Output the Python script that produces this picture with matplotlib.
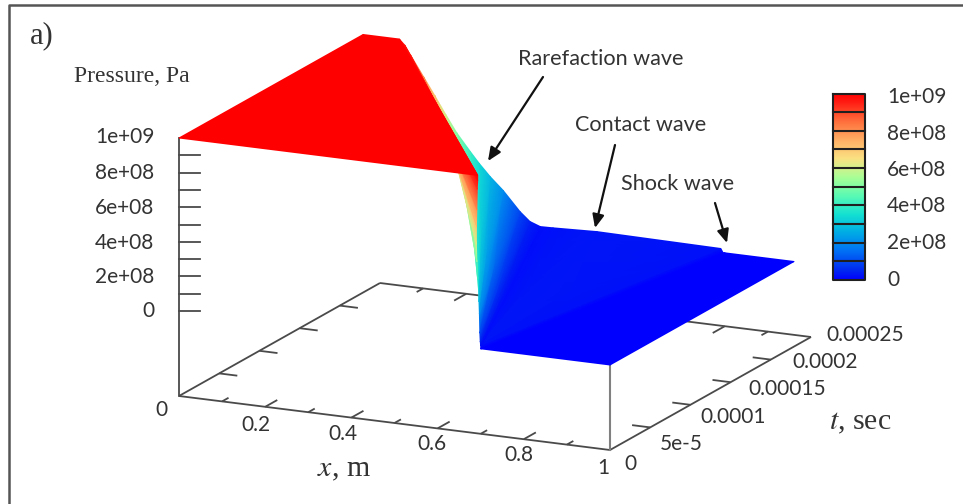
import numpy as np
import matplotlib
matplotlib.use("Agg")
import matplotlib.pyplot as plt
from matplotlib.colors import LinearSegmentedColormap, Normalize

# ---------- data ----------
x_ticks_major = [0.2, 0.4, 0.6, 0.8]
x_ticks_minor = [0.1, 0.3, 0.5, 0.7, 0.9]
t_ticks = [5e-5, 1e-4, 1.5e-4, 2e-4]
z_ticks = [0.0, 1e8, 2e8, 3e8, 4e8, 5e8, 6e8, 7e8, 8e8, 9e8]
x_labels = ["0.2", "0.4", "0.6", "0.8", "1"]
t_labels = ["0", "5e-5", "0.0001", "0.00015", "0.0002", "0.00025"]
z_labels = ["1e+09", "8e+08", "6e+08", "4e+08", "2e+08", "0"]
key_labels = ["1e+09", "8e+08", "6e+08", "4e+08", "2e+08", "0"]
key_levels = [1e9, 8e8, 6e8, 4e8, 2e8, 0.0]

t_last = 2.29e-4
# Each column follows one wave ray: where it starts at t=0, where it is at t_last, and its pressure
ray_x_start = [0.000, 0.693, 0.693, 0.692, 0.691, 0.690, 0.690, 0.691, 0.693, 0.695, 0.696, 0.697, 0.698, 0.699, 0.700, 0.700, 0.700, 0.700, 0.700, 0.700, 1.000]
ray_x_end   = [0.000, 0.084, 0.096, 0.109, 0.140, 0.166, 0.191, 0.217, 0.249, 0.269, 0.295, 0.325, 0.364, 0.387, 0.411, 0.441, 0.543, 0.830, 0.835, 0.840, 1.000]
ray_p       = [1.0e9, 1.0e9, 9.7e8, 9.2e8, 8.0e8, 7.0e8, 6.0e8, 5.0e8, 4.0e8, 3.4e8, 2.7e8, 2.0e8, 9.0e7, 4.0e7, 1.8e7, 2.0e7, 3.0e7, 2.2e7, 0.0, 0.0, 0.0]

# gnuplot-style palette
palette_pos = [0.0, 0.05, 0.15, 0.25, 0.35, 0.45, 0.55, 0.65, 0.75, 0.85, 0.95, 1.0]
palette_col = ["#0000ff", "#0028f0", "#006ef5", "#00aae6", "#14e1d2", "#5afab4",
               "#aaff96", "#fae182", "#ffaf64", "#ff6e3c", "#ff1e14", "#ff0000"]

# ---------- set-up ----------
W, H = 963, 504
fig = plt.figure(figsize=(W / 100, H / 100), dpi=100)
ax = fig.add_axes([0, 0, 1, 1])
ax.set_xlim(0, W)
ax.set_ylim(H, 0)
ax.axis("off")

cmap = LinearSegmentedColormap.from_list("pal", list(zip(palette_pos, palette_col)))
norm = Normalize(0, 1e9)

T_AXIS = 2.5e-4
ORIGIN = np.array([179.0, 396.0])
VX = np.array([431.0, 54.0])
VT = np.array([201.0, -113.0])
Z_BASE = 85.0     # lift of p=0 above the floor
Z_SCALE = 173.0   # pixels for 1e9


def project(x, t, p=None):
    x = np.asarray(x, float)
    t = np.asarray(t, float)
    sx = ORIGIN[0] + VX[0] * x + VT[0] * t / T_AXIS
    sy = ORIGIN[1] + VX[1] * x + VT[1] * t / T_AXIS
    if p is not None:
        sy = sy - Z_BASE - Z_SCALE * np.asarray(p, float) / 1e9
    return sx, sy


AX_C = "#4a4a4a"
TXT_C = "#333333"
TICK_FONT = ["Lato", "DejaVu Sans"]
TICK_SIZE = 15.0
NOTE_SIZE = 15.6


def seg(x, t, dx=0.0, dt=0.0, lw=1.3, c=AX_C):
    a = project(x, t)
    b = project(x + dx, t + dt)
    ax.plot([a[0], b[0]], [a[1], b[1]], color=c, lw=lw, solid_capstyle="butt", zorder=2)


# frame of the picture
ax.plot([8.5, 8.5, W], [H, 5, 5], color="#555555", lw=1.8, zorder=1)

# floor
seg(0, 0, dx=1)
seg(0, 0, dt=T_AXIS)
seg(1, 0, dt=T_AXIS)
seg(0, T_AXIS, dx=1)
for v in x_ticks_major:
    seg(v, 0, dt=1.5e-5)
    seg(v, T_AXIS, dt=-1.5e-5)
for v in x_ticks_minor:
    seg(v, 0, dt=0.8e-5)
    seg(v, T_AXIS, dt=-0.8e-5)
for v in t_ticks:
    seg(0, v, dx=0.042)
    seg(1, v, dx=-0.042)

# z axis
zx, zy0 = project(0, 0)
ax.plot([zx, zx], [zy0, zy0 - Z_BASE - Z_SCALE], color=AX_C, lw=1.3, zorder=2)
for v in z_ticks:
    y = zy0 - Z_BASE - Z_SCALE * v / 1e9
    ax.plot([zx, zx + 21], [y, y], color=AX_C, lw=1.3, zorder=2)

# vertical at x=1, t=0
rx, ry = project(1, 0)
ax.plot([rx, rx], [ry, ry - Z_BASE], color="#808080", lw=1.5, zorder=2)

# surface: drawn from right to left so the high-pressure plane ends on top
xs = np.array([ray_x_start, ray_x_end], float)[:, ::-1]
ts = np.array([[0.0] * len(ray_p), [t_last] * len(ray_p)])
ps = np.array([ray_p, ray_p], float)[:, ::-1]
SX, SY = project(xs, ts, ps)
ax.pcolormesh(SX, SY, ps, cmap=cmap, norm=norm, shading="gouraud", zorder=3)

# colour key
key = np.linspace(1e9, 0, 256)[:, None]
ax.imshow(key, extent=[833, 865, 280, 93.5], origin="upper", aspect="auto", cmap=cmap, norm=norm, zorder=3)
ax.set_xlim(0, W)
ax.set_ylim(H, 0)
for i in range(1, 10):
    y = 93.5 + i * (280 - 93.5) / 10
    ax.plot([833, 865], [y, y], color="#202020", lw=1.5, zorder=4)
ax.plot([833, 865, 865, 833, 833], [93.5, 93.5, 280, 280, 93.5], color="#202020", lw=1.5, zorder=4)
for s, v in zip(key_labels, key_levels):
    y = 279.5 - (279.5 - 97) * v / 1e9
    ax.text(887, y, s, ha="left", va="center", family=TICK_FONT, fontsize=TICK_SIZE, color=TXT_C, zorder=5)

# tick labels
for s, y in zip(z_labels, [137, 173, 208, 243, 277, 311]):
    ax.text(154.5, y, s, ha="right", va="center", family=TICK_FONT, fontsize=TICK_SIZE, color=TXT_C)
ax.text(161, 410, "0", ha="center", va="center", family=TICK_FONT, fontsize=TICK_SIZE, color=TXT_C)
for s, (x, y) in zip(x_labels, [(256, 425), (343, 434), (432, 444), (519, 455), (603, 468)]):
    ax.text(x, y, s, ha="center", va="center", family=TICK_FONT, fontsize=TICK_SIZE, color=TXT_C)
for s, (x, y) in zip(t_labels, [(630, 464), (681, 444), (733, 417), (787, 389), (825, 362), (865, 335)]):
    ax.text(x, y, s, ha="center", va="center", family=TICK_FONT, fontsize=TICK_SIZE, color=TXT_C)

# titles
SERIF = "Liberation Serif"
ax.text(74, 77, "Pressure, Pa", ha="left", va="center", family=SERIF, fontsize=17, color=TXT_C)
ax.text(30, 36, "a)", ha="left", va="center", family=SERIF, fontsize=22, color=TXT_C)
ax.text(344, 470, r"$\mathit{x}$, m", ha="center", va="center", family=SERIF, fontsize=21.5, color=TXT_C, math_fontfamily="stix")
ax.text(860, 423, r"$\mathit{t}$, sec", ha="center", va="center", family=SERIF, fontsize=21.5, color=TXT_C, math_fontfamily="stix")

# annotations
for s, (x, y) in zip(["Rarefaction wave", "Contact wave", "Shock wave"], [(601, 59), (641, 125), (678, 184)]):
    ax.text(x, y, s, ha="center", va="center", family=TICK_FONT, fontsize=NOTE_SIZE, color=TXT_C, zorder=6)
for (a, b) in [((543, 77), (488, 161)), ((615, 145), (595, 228)), ((715, 203), (727, 243))]:
    ax.annotate("", xy=b, xytext=a, zorder=6,
                arrowprops=dict(arrowstyle="-|>,head_length=0.8,head_width=0.35", color="#111111", lw=1.6,
                                shrinkA=0, shrinkB=0))

fig.savefig("out.png", dpi=100)
